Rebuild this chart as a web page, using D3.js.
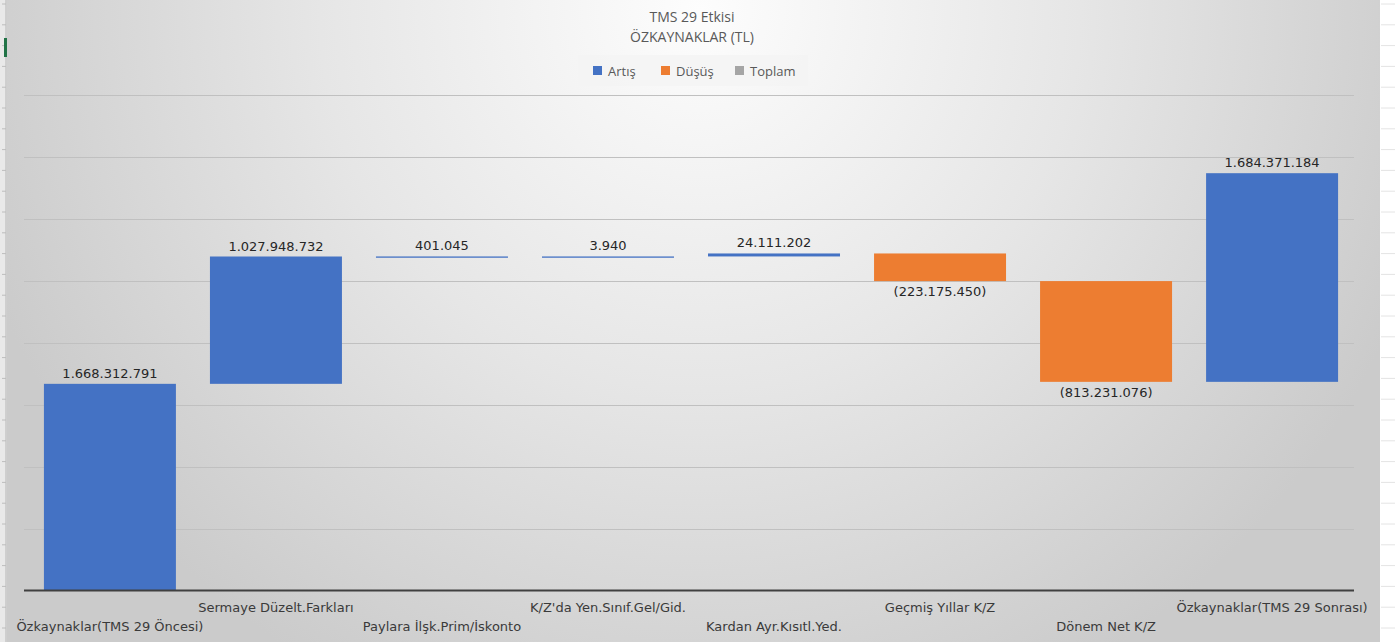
<!DOCTYPE html>
<html>
<head>
<meta charset="utf-8">
<script src="https://cdn.jsdelivr.net/npm/d3@7"></script>
<style>
  body { margin: 0; background: #fff; }
  svg { display: block; }
</style>
</head>
<body>
<div id="chart"></div>
<script>
/*
*    TMS 29 Etkisi - waterfall
*/

// categories (x axis)
const categories = [
	"Özkaynaklar(TMS 29 Öncesi)",
	"Sermaye Düzelt.Farkları",
	"Paylara İlşk.Prim/İskonto",
	"K/Z'da Yen.Sınıf.Gel/Gid.",
	"Kardan Ayr.Kısıtl.Yed.",
	"Geçmiş Yıllar K/Z",
	"Dönem Net K/Z",
	"Özkaynaklar(TMS 29 Sonrası)"
];

// change values (TL)
const values = [1668312791, 1027948732, 401045, 3940, 24111202, -223175450, -813231076, 1684371184];

// data labels as shown
const valueLabels = ["1.668.312.791", "1.027.948.732", "401.045", "3.940", "24.111.202", "(223.175.450)", "(813.231.076)", "1.684.371.184"];

// legend
const legendNames = ["Artış", "Düşüş", "Toplam"];
const legendColors = ["#4472C4", "#ED7D31", "#A5A5A5"];

// y gridline ticks
const yTicks = [0, 500e6, 1000e6, 1500e6, 2000e6, 2500e6, 3000e6, 3500e6, 4000e6];

waterfall("#chart");

function waterfall(container) {

	const width = 1395;
	const height = 642;

	const svg = d3.select(container)
		.append("svg")
		.attr("width", width)
		.attr("height", height);

	// background gradient (Excel style)
	const defs = svg.append("defs");
	const grad = defs.append("radialGradient")
		.attr("id", "bg")
		.attr("gradientUnits", "userSpaceOnUse")
		.attr("cx", 700).attr("cy", 10).attr("r", 760);
	grad.append("stop").attr("offset", 0).attr("stop-color", "#fdfdfd");
	grad.append("stop").attr("offset", 0.5).attr("stop-color", "#e6e6e6");
	grad.append("stop").attr("offset", 1).attr("stop-color", "#cbcbcb");

	svg.append("rect")
		.attr("x", 0).attr("y", 0)
		.attr("width", 7).attr("height", height)
		.attr("fill", "#e9e9e9");

	svg.append("rect")
		.attr("x", 7).attr("y", 0)
		.attr("width", 1373).attr("height", height)
		.attr("fill", "url(#bg)");

	// sheet row borders on the edges
	const rows = d3.range(4, height, 20.8);
	svg.append("line")
		.attr("x1", 6).attr("x2", 6)
		.attr("y1", 0).attr("y2", height)
		.attr("stroke", "#b4b4b4");
	svg.append("g")
		.selectAll("line")
		.data(rows)
		.enter()
		.append("line")
		.attr("x1", 2).attr("x2", 6)
		.attr("y1", d => d).attr("y2", d => d)
		.attr("stroke", "#bdbdbd");
	svg.append("g")
		.selectAll("line")
		.data(rows)
		.enter()
		.append("line")
		.attr("x1", 1381).attr("x2", 1395)
		.attr("y1", d => d).attr("y2", d => d)
		.attr("stroke", "#e4e4e4");
	svg.append("rect")
		.attr("x", 4).attr("y", 38)
		.attr("width", 3).attr("height", 19)
		.attr("fill", "#217346");

	// scales
	const x = d3.scaleBand()
		.domain(categories)
		.range([24, 1358])
		.paddingInner(0.205)
		.paddingOuter(0.12);

	const y = d3.scaleLinear()
		.domain([0, 4000e6])
		.range([590.5, 95]);

	// gridlines
	svg.append("g")
		.selectAll("line")
		.data(yTicks.slice(1))
		.enter()
		.append("line")
		.attr("x1", 24).attr("x2", 1354)
		.attr("y1", d => Math.round(y(d)) + 0.5)
		.attr("y2", d => Math.round(y(d)) + 0.5)
		.attr("stroke", "#c0c0c0")
		.attr("stroke-width", 1);

	// running totals
	let run = 0;
	const data = values.map((v, i) => {
		const start = run;
		run += v;
		return {
			name: categories[i],
			value: v,
			label: valueLabels[i],
			lo: Math.min(start, run),
			hi: Math.max(start, run)
		};
	});

	// bars
	svg.append("g")
		.selectAll("rect")
		.data(data)
		.enter()
		.append("rect")
		.attr("x", d => x(d.name))
		.attr("y", d => y(d.hi))
		.attr("width", x.bandwidth())
		.attr("height", d => Math.max(1.3, y(d.lo) - y(d.hi)))
		.attr("fill", d => d.value >= 0 ? legendColors[0] : legendColors[1]);

	// data labels
	svg.append("g")
		.selectAll("text")
		.data(data)
		.enter()
		.append("text")
		.attr("x", d => x(d.name) + x.bandwidth() / 2)
		.attr("y", d => d.value >= 0 ? y(d.hi) - 6 : y(d.lo) + 15)
		.attr("text-anchor", "middle")
		.style("font-family", "DejaVu Sans, sans-serif")
		.style("font-size", "13px")
		.style("fill", "#262626")
		.text(d => d.label);

	// x axis baseline
	svg.append("line")
		.attr("x1", 24).attr("x2", 1354)
		.attr("y1", y(0)).attr("y2", y(0))
		.attr("stroke", "#404040")
		.attr("stroke-width", 2);

	// category labels, staggered
	svg.append("g")
		.selectAll("text")
		.data(categories)
		.enter()
		.append("text")
		.attr("x", d => x(d) + x.bandwidth() / 2)
		.attr("y", (d, i) => i % 2 === 0 ? 631 : 612)
		.attr("text-anchor", "middle")
		.style("font-family", "DejaVu Sans, sans-serif")
		.style("font-size", "13px")
		.style("fill", "#3a3a3a")
		.text(d => d);

	// title
	svg.append("text")
		.attr("x", 692).attr("y", 22)
		.attr("text-anchor", "middle")
		.style("font-family", "Open Sans, sans-serif")
		.style("font-size", "14px")
		.style("fill", "#595959")
		.text("TMS 29 Etkisi");
	svg.append("text")
		.attr("x", 692).attr("y", 42)
		.attr("text-anchor", "middle")
		.style("font-family", "Open Sans, sans-serif")
		.style("font-size", "14px")
		.style("fill", "#595959")
		.text("ÖZKAYNAKLAR (TL)");

	// legend
	svg.append("rect")
		.attr("x", 578).attr("y", 55)
		.attr("width", 230).attr("height", 31)
		.attr("fill", "#f4f4f4")
		.attr("opacity", 0.8);

	const legendX = [593, 661, 735];
	const lg = svg.append("g")
		.selectAll("g")
		.data(legendNames)
		.enter()
		.append("g")
		.attr("transform", (d, i) => `translate(${legendX[i]}, 66)`);

	lg.append("rect")
		.attr("width", 9).attr("height", 9)
		.attr("fill", (d, i) => legendColors[i]);

	lg.append("text")
		.attr("x", 15).attr("y", 9.5)
		.style("font-family", "Open Sans, sans-serif")
		.style("font-size", "13px")
		.style("fill", "#595959")
		.text(d => d);
}
</script>
</body>
</html>
